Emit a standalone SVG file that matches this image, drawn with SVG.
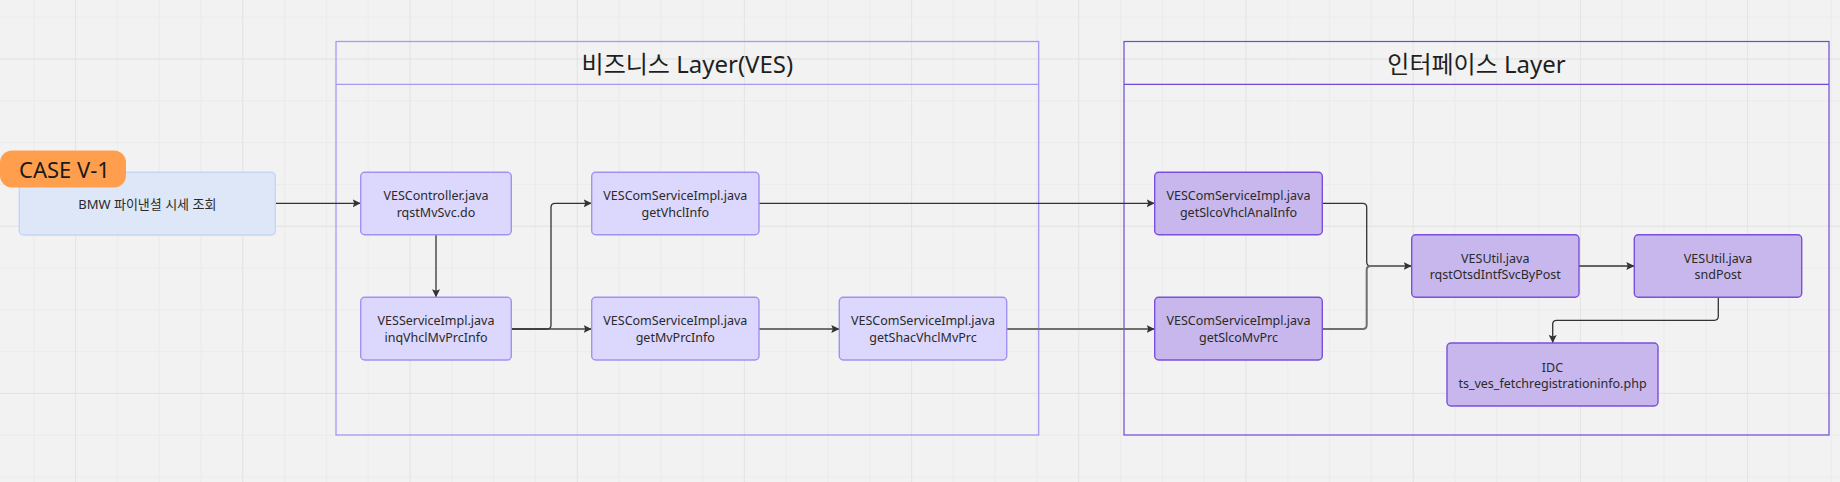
<svg xmlns="http://www.w3.org/2000/svg" width="1840" height="482" viewBox="0 0 1840 482">
<defs>
<pattern id="gridMinor" x="33.3" y="16.7" width="41.8" height="41.8" patternUnits="userSpaceOnUse">
<path d="M0,0 H41.8 M0,0 V41.8" fill="none" stroke="#e6e6e6" stroke-width="1.2"/>
</pattern>
<pattern id="gridMajor" x="75.1" y="58.5" width="167.2" height="167.2" patternUnits="userSpaceOnUse">
<path d="M0,0 H167.2 M0,0 V167.2" fill="none" stroke="#e0e0e0" stroke-width="1.3"/>
</pattern>
<marker id="arrow" viewBox="0 0 8 8" refX="8" refY="4" markerWidth="8" markerHeight="8" markerUnits="userSpaceOnUse" orient="auto">
<path d="M0,0 L8,4 L0,8 L1.5,4 z" fill="#333333"/>
</marker>
</defs>
<style>
.t{font-family:"Noto Sans","Noto Sans CJK KR",sans-serif;fill:#2a2a2a;text-anchor:middle;}
.nt{font-size:12.5px;}
.title{font-size:24px;fill:#1f1f1f;}
.bnode{fill:#dcd7fc;stroke:#a191f2;stroke-width:1.4;}
.inode{fill:#c8b7ec;stroke:#7b4fdb;stroke-width:1.4;}
.dark{fill:none;stroke:#333333;stroke-width:1.3;}
.gray{fill:none;stroke:#6f6f6f;stroke-width:2;}
</style>
<rect x="0" y="0" width="1840" height="482" fill="#f2f2f2"/>
<rect x="0" y="0" width="1840" height="482" fill="url(#gridMinor)"/>
<rect x="0" y="0" width="1840" height="482" fill="url(#gridMajor)"/>

<g id="frame-business">
<rect x="336" y="41.5" width="702.7" height="393.5" fill="none" stroke="#a698f3" stroke-width="1.3"/>
<line x1="336" y1="84.3" x2="1038.7" y2="84.3" stroke="#a698f3" stroke-width="1.3"/>
<text class="t title" x="687.4" y="73">비즈니스 Layer(VES)</text>
</g>
<g id="frame-interface">
<rect x="1124" y="41.5" width="705" height="393.5" fill="none" stroke="#7049d8" stroke-width="1.2"/>
<line x1="1124" y1="84.3" x2="1829" y2="84.3" stroke="#7049d8" stroke-width="1.2"/>
<text class="t title" x="1476.5" y="73">인터페이스 Layer</text>
</g>

<g id="connectors">
<line class="dark" x1="275.5" y1="203.3" x2="360.7" y2="203.3" marker-end="url(#arrow)"/>
<line class="dark" x1="436" y1="234.7" x2="436" y2="297.3" marker-end="url(#arrow)"/>
<line class="gray" x1="511.3" y1="329" x2="591.7" y2="329" marker-end="url(#arrow)"/>
<path class="dark" d="M511.3,329 H547 Q551,329 551,325 V207.3 Q551,203.3 555,203.3 H591.7" marker-end="url(#arrow)"/>
<line class="dark" x1="759" y1="203.3" x2="1154.7" y2="203.3" marker-end="url(#arrow)"/>
<line class="gray" x1="759" y1="329" x2="839.3" y2="329" marker-end="url(#arrow)"/>
<line class="gray" x1="1006.7" y1="329" x2="1154.7" y2="329" marker-end="url(#arrow)"/>
<path class="dark" d="M1322.3,203.3 H1362.7 Q1366.7,203.3 1366.7,207.3 V262 Q1366.7,266 1370.7,266 H1411.7" marker-end="url(#arrow)"/>
<path class="gray" d="M1322.3,329 H1362.7 Q1366.7,329 1366.7,325 V270 Q1366.7,266 1370.7,266 H1405"/>
<line class="dark" x1="1579" y1="266" x2="1634.3" y2="266" marker-end="url(#arrow)"/>
<path class="dark" d="M1718.3,297.3 V316.3 Q1718.3,320.3 1714.3,320.3 H1556.7 Q1552.7,320.3 1552.7,324.3 V343" marker-end="url(#arrow)"/>
</g>

<g id="node-bmw">
<rect x="19.3" y="172.3" width="256" height="62.7" rx="4" fill="#dde7f7" stroke="#c3d6f4" stroke-width="1.4"/>
<text class="t" x="147.3" y="208.5" style="font-size:13px">BMW 파이낸셜 시세 조회</text>
</g>
<g id="node-case">
<rect x="0" y="150.5" width="126" height="37" rx="12" fill="#ff9f4d"/>
<text class="t" x="64.5" y="178.3" style="font-size:22px;fill:#1a1a1a">CASE V-1</text>
</g>

<g id="node-controller">
<rect class="bnode" x="360.7" y="172.3" width="150.6" height="62.4" rx="4"/>
<text class="t nt" x="436" y="200.2">VESController.java</text>
<text class="t nt" x="436" y="216.8">rqstMvSvc.do</text>
</g>
<g id="node-serviceimpl">
<rect class="bnode" x="360.7" y="297.3" width="150.6" height="62.7" rx="4"/>
<text class="t nt" x="436" y="325.4">VESServiceImpl.java</text>
<text class="t nt" x="436" y="342">inqVhclMvPrcInfo</text>
</g>
<g id="node-getvhclinfo">
<rect class="bnode" x="591.7" y="172.3" width="167.3" height="62.4" rx="4"/>
<text class="t nt" x="675.3" y="200.2">VESComServiceImpl.java</text>
<text class="t nt" x="675.3" y="216.8">getVhclInfo</text>
</g>
<g id="node-getmvprcinfo">
<rect class="bnode" x="591.7" y="297.3" width="167.3" height="62.7" rx="4"/>
<text class="t nt" x="675.3" y="325.4">VESComServiceImpl.java</text>
<text class="t nt" x="675.3" y="342">getMvPrcInfo</text>
</g>
<g id="node-getshacvhclmvprc">
<rect class="bnode" x="839.3" y="297.3" width="167.4" height="62.7" rx="4"/>
<text class="t nt" x="923" y="325.4">VESComServiceImpl.java</text>
<text class="t nt" x="923" y="342">getShacVhclMvPrc</text>
</g>
<g id="node-getslcovhclanalinfo">
<rect class="inode" x="1154.7" y="172.3" width="167.6" height="62.4" rx="4"/>
<text class="t nt" x="1238.5" y="200.2">VESComServiceImpl.java</text>
<text class="t nt" x="1238.5" y="216.8">getSlcoVhclAnalInfo</text>
</g>
<g id="node-getslcomvprc">
<rect class="inode" x="1154.7" y="297.3" width="167.6" height="62.7" rx="4"/>
<text class="t nt" x="1238.5" y="325.4">VESComServiceImpl.java</text>
<text class="t nt" x="1238.5" y="342">getSlcoMvPrc</text>
</g>
<g id="node-rqstotsdintfsvcbypost">
<rect class="inode" x="1411.7" y="234.7" width="167.3" height="62.6" rx="4"/>
<text class="t nt" x="1495.3" y="262.7">VESUtil.java</text>
<text class="t nt" x="1495.3" y="279.3">rqstOtsdIntfSvcByPost</text>
</g>
<g id="node-sndpost">
<rect class="inode" x="1634.3" y="234.7" width="167.4" height="62.6" rx="4"/>
<text class="t nt" x="1718" y="262.7">VESUtil.java</text>
<text class="t nt" x="1718" y="279.3">sndPost</text>
</g>
<g id="node-idc">
<rect class="inode" x="1447" y="343" width="211" height="63" rx="4"/>
<text class="t nt" x="1552.5" y="371.5">IDC</text>
<text class="t nt" x="1552.5" y="388">ts_ves_fetchregistrationinfo.php</text>
</g>
</svg>
